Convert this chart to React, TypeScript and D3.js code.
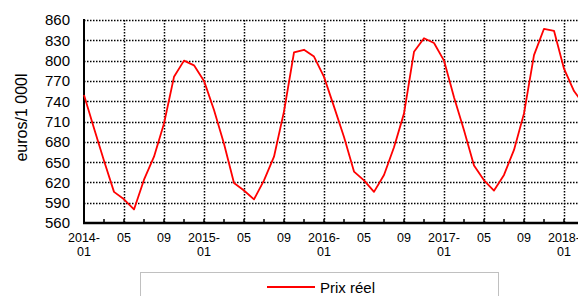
import React, { useEffect, useRef } from 'react';
import * as d3 from 'd3';

// monthly real price, 2014-01 .. 2018-03
const years = [2014, 2015, 2016, 2017, 2018];
const prices2014 = [749, 700, 652, 606, 595, 580, 624, 658, 707, 776, 800, 793];
const prices2015 = [770, 727, 677, 619, 608, 595, 623, 658, 725, 812, 816, 806];
const prices2016 = [776, 732, 687, 636, 623, 606, 631, 672, 722, 813, 833, 826];
const prices2017 = [800, 746, 697, 645, 623, 608, 631, 668, 722, 808, 847, 844];
const prices2018 = [788, 755, 735];
const yTicks = [560, 590, 620, 650, 680, 710, 740, 770, 800, 830, 860];
const monthLabels = ['01', '05', '09'];
const yTitle = 'euros/1 000l';
const seriesName = 'Prix réel';

const App = () => {
    const svgRef = useRef<SVGSVGElement>(null);

    useEffect(() => {
        const svg = d3.select(svgRef.current);
        svg.selectAll('*').remove();

        const values = [...prices2014, ...prices2015, ...prices2016, ...prices2017, ...prices2018];
        const data = values.map((v, i) => ({ i, v }));

        const left = 84, top = 20, bottom = 223;
        const x = d3.scaleLinear().domain([0, 48]).range([left, 564]);
        const y = d3.scaleLinear().domain([560, 860]).range([bottom, top]);
        const font = 'Arial, "Liberation Sans", sans-serif';

        // horizontal dotted grid
        svg.append('g')
            .selectAll('line')
            .data(yTicks.slice(1))
            .enter()
            .append('line')
            .attr('x1', left)
            .attr('x2', 578)
            .attr('y1', (d) => Math.round(y(d)) + 0.5)
            .attr('y2', (d) => Math.round(y(d)) + 0.5)
            .attr('stroke', '#000')
            .attr('stroke-width', 1.5)
            .attr('stroke-dasharray', '1.5 1.5');

        // vertical dotted grid every 4 months
        const gridMonths = d3.range(4, 53, 4);
        svg.append('g')
            .selectAll('line')
            .data(gridMonths)
            .enter()
            .append('line')
            .attr('x1', (d) => x(d) + 0.5)
            .attr('x2', (d) => x(d) + 0.5)
            .attr('y1', top)
            .attr('y2', bottom)
            .attr('stroke', '#000')
            .attr('stroke-width', 1.5)
            .attr('stroke-dasharray', '1.5 1.5');

        // axes
        svg.append('line')
            .attr('x1', left).attr('x2', left)
            .attr('y1', top - 1).attr('y2', bottom + 1)
            .attr('stroke', '#000').attr('stroke-width', 2);
        svg.append('line')
            .attr('x1', left - 1).attr('x2', 578)
            .attr('y1', bottom).attr('y2', bottom)
            .attr('stroke', '#000').attr('stroke-width', 2.5);

        svg.append('g')
            .selectAll('line')
            .data(d3.range(2, 53, 2))
            .enter()
            .append('line')
            .attr('x1', (d) => x(d))
            .attr('x2', (d) => x(d))
            .attr('y1', bottom - 4)
            .attr('y2', bottom)
            .attr('stroke', '#000')
            .attr('stroke-width', 1.5);

        // y tick labels
        svg.append('g')
            .selectAll('text')
            .data(yTicks)
            .enter()
            .append('text')
            .attr('x', 70)
            .attr('y', (d) => y(d))
            .attr('dy', '0.36em')
            .attr('text-anchor', 'end')
            .style('font-family', font)
            .style('font-size', '15px')
            .attr('fill', '#000')
            .text((d) => d);

        // x tick labels
        const xLabels = d3.range(0, 49, 4).map((m) => {
            const label = monthLabels[(m % 12) / 4];
            const isJan = m % 12 === 0;
            return { m, top: isJan ? `${years[m / 12]}-` : label, bottom: isJan ? label : '' };
        });
        const xl = svg.append('g')
            .selectAll('g')
            .data(xLabels)
            .enter()
            .append('g');
        xl.append('text')
            .attr('x', (d) => x(d.m))
            .attr('y', 242)
            .attr('text-anchor', 'middle')
            .style('font-family', font)
            .style('font-size', '12.5px')
            .text((d) => d.top);
        xl.append('text')
            .attr('x', (d) => x(d.m))
            .attr('y', 255.5)
            .attr('text-anchor', 'middle')
            .style('font-family', font)
            .style('font-size', '12.5px')
            .text((d) => d.bottom);

        // y axis title
        svg.append('text')
            .attr('transform', 'translate(27,117.5) rotate(-90)')
            .attr('text-anchor', 'middle')
            .style('font-family', font)
            .style('font-size', '16px')
            .text(yTitle);

        // price line
        const line = d3.line<{ i: number; v: number }>()
            .x((d) => x(d.i))
            .y((d) => y(d.v));
        svg.append('path')
            .datum(data)
            .attr('d', line)
            .attr('fill', 'none')
            .attr('stroke', '#ff0000')
            .attr('stroke-width', 1.8)
            .attr('stroke-linejoin', 'round');

        // legend
        svg.append('rect')
            .attr('x', 140.5)
            .attr('y', 272.5)
            .attr('width', 358)
            .attr('height', 40)
            .attr('fill', '#fff')
            .attr('stroke', '#c0c0c0')
            .attr('stroke-width', 1);
        svg.append('line')
            .attr('x1', 267).attr('x2', 315)
            .attr('y1', 287).attr('y2', 287)
            .attr('stroke', '#ff0000').attr('stroke-width', 1.8);
        svg.append('text')
            .attr('x', 320)
            .attr('y', 292.5)
            .style('font-family', font)
            .style('font-size', '15px')
            .text(seriesName);
    }, []);

    return (
        <svg
            ref={svgRef}
            width={578}
            height={296}
            style={{ position: 'absolute', left: 0, top: 0, background: '#fff' }}
        />
    );
};

export default App;
